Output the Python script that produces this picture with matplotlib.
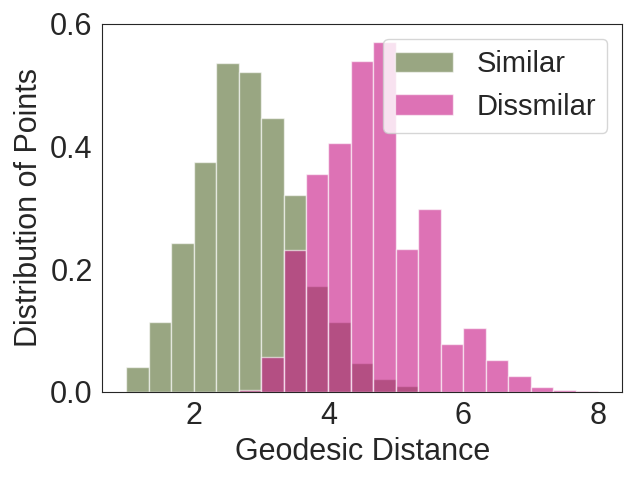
import numpy as np
import matplotlib
matplotlib.use("Agg")
import matplotlib.pyplot as plt
import seaborn as sns

# Bin edges (21 bins of width 1/3 from 1 to 8)
bin_edges = list(np.linspace(1, 8, 22))

# Density values per bin
similar = [0.041, 0.114, 0.242, 0.374, 0.537, 0.521, 0.447, 0.321, 0.173, 0.114,
           0.046, 0.021, 0.009, 0.001, 0, 0, 0, 0, 0, 0, 0]
dissimilar = [0, 0, 0, 0, 0, 0.003, 0.057, 0.232, 0.355, 0.406,
              0.540, 0.571, 0.233, 0.298, 0.077, 0.104, 0.051, 0.026, 0.008, 0.002, 0.001]

labels = ["Similar", "Dissmilar"]
yticks = [0.0, 0.2, 0.4, 0.6]
xticks = [2, 4, 6, 8]

sns.set_style("white")
plt.rcParams['font.family'] = ['Liberation Sans', 'DejaVu Sans']

fig, ax = plt.subplots(figsize=(6.4, 4.8), dpi=100)
edges = np.array(bin_edges)
centers = (edges[:-1] + edges[1:]) / 2
ax.hist(centers, bins=edges, weights=similar, color="darkolivegreen", alpha=0.6,
        edgecolor="white", linewidth=1, label=labels[0])
ax.hist(centers, bins=edges, weights=dissimilar, color="mediumvioletred", alpha=0.6,
        edgecolor="white", linewidth=1, label=labels[1])

ax.set_ylim(0, 0.6)
ax.set_xticks(xticks)
ax.set_yticks(yticks)
ax.set_yticklabels([f"{v:.1f}" for v in yticks])
ax.tick_params(labelsize=22)
ax.set_xlabel("Geodesic Distance", fontsize=22)
ax.set_ylabel("Distribution of Points", fontsize=22)
ax.legend(fontsize=21, loc="upper right")
for s in ax.spines.values():
    s.set_color("#262626")
fig.subplots_adjust(left=0.160, right=0.972, top=0.95, bottom=0.184)
fig.savefig("out.png", dpi=100)
